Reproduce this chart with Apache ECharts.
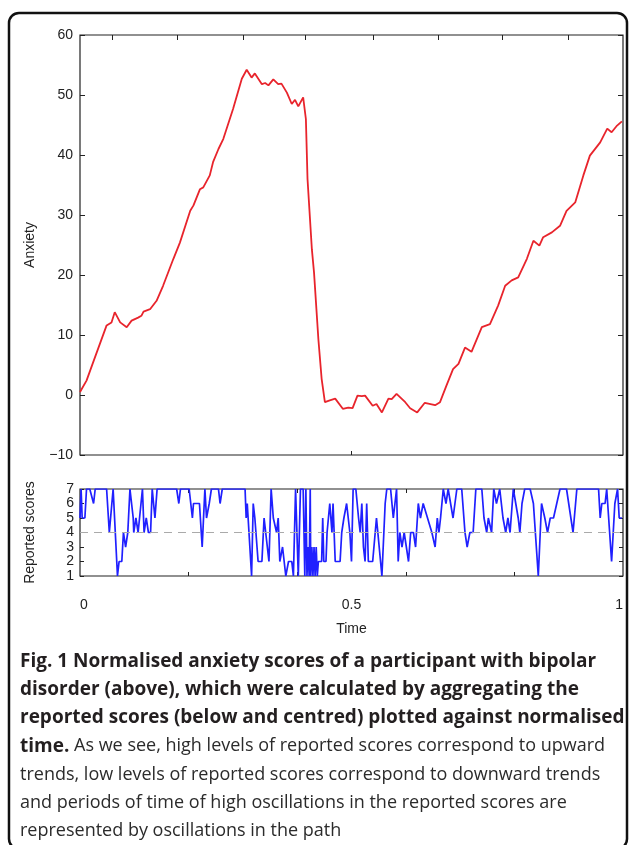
<!DOCTYPE html>
<html>
<head>
<meta charset="utf-8">
<script src="https://cdn.jsdelivr.net/npm/echarts@6/dist/echarts.min.js"></script>
<style>
html, body { margin: 0; padding: 0; background: #fff; }
#chart { width: 629px; height: 845px; }
</style>
</head>
<body>
<div id="chart"></div>
<script>
// anxiety path (top panel)
var anxietyTime = [0.000, 0.012, 0.024, 0.049, 0.058, 0.064, 0.074, 0.086, 0.095, 0.107, 0.113, 0.117, 0.129, 0.141, 0.153,
	0.172, 0.184, 0.203, 0.209, 0.221, 0.227, 0.239, 0.245, 0.255, 0.264, 0.282, 0.298, 0.307, 0.316, 0.322, 0.335, 0.341,
	0.347, 0.356, 0.365, 0.371, 0.381, 0.390, 0.396, 0.402, 0.411, 0.414, 0.416, 0.419, 0.427, 0.431, 0.439, 0.445, 0.451,
	0.460, 0.470, 0.484, 0.494, 0.502, 0.511, 0.519, 0.525, 0.539, 0.546, 0.556, 0.568, 0.574, 0.583, 0.599, 0.608, 0.621,
	0.635, 0.654, 0.663, 0.675, 0.687, 0.697, 0.709, 0.721, 0.740, 0.755, 0.770, 0.783, 0.795, 0.807, 0.823, 0.835, 0.846,
	0.853, 0.869, 0.884, 0.896, 0.912, 0.927, 0.939, 0.958, 0.971, 0.979, 0.988, 0.998];
var anxietyValue = [0.5, 2.4, 5.4, 11.6, 12.1, 13.8, 12.1, 11.3, 12.4, 12.9, 13.2, 13.9, 14.3, 15.7, 18.2,
	22.7, 25.4, 30.7, 31.6, 34.3, 34.6, 36.6, 38.8, 41.0, 42.7, 47.7, 52.7, 54.2, 52.9, 53.6, 51.8, 52.0,
	51.6, 52.6, 51.8, 51.9, 50.4, 48.5, 49.2, 48.1, 49.6, 49.8, 46.0, 36.0, 24.3, 20.4, 9.3, 2.7, -1.2,
	-0.9, -0.6, -2.3, -2.1, -2.2, -0.1, -0.2, -0.1, -1.8, -1.5, -2.9, -0.6, -0.7, 0.2, -1.2, -2.2, -2.9,
	-1.3, -1.7, -1.2, 1.6, 4.3, 5.2, 7.9, 7.2, 11.3, 11.8, 14.9, 18.2, 19.1, 19.6, 22.7, 25.7, 24.9,
	26.3, 27.1, 28.2, 30.7, 32.1, 36.6, 39.9, 42.1, 44.4, 43.8, 44.8, 45.6];

// reported scores (bottom panel)
var scoreTime = [0.000, 0.002, 0.004, 0.009, 0.012, 0.018, 0.025, 0.028, 0.049, 0.054, 0.061, 0.064, 0.069, 0.072, 0.077,
	0.080, 0.084, 0.088, 0.092, 0.098, 0.099, 0.103, 0.107, 0.115, 0.118, 0.122, 0.126, 0.130, 0.133, 0.138, 0.142,
	0.178, 0.182, 0.185, 0.201, 0.207, 0.209, 0.220, 0.225, 0.230, 0.233, 0.238, 0.242, 0.255, 0.258, 0.262, 0.304,
	0.306, 0.308, 0.316, 0.319, 0.322, 0.328, 0.335, 0.339, 0.348, 0.352, 0.356, 0.362, 0.365, 0.368, 0.373, 0.379,
	0.384, 0.390, 0.393, 0.397, 0.402, 0.406, 0.411, 0.414, 0.416, 0.418, 0.420, 0.422, 0.424, 0.425, 0.427, 0.429,
	0.431, 0.433, 0.435, 0.437, 0.439, 0.445, 0.447, 0.449, 0.453, 0.455, 0.460, 0.464, 0.466, 0.470, 0.479, 0.482,
	0.486, 0.491, 0.497, 0.500, 0.503, 0.508, 0.513, 0.516, 0.519, 0.522, 0.525, 0.528, 0.531, 0.539, 0.546, 0.556,
	0.562, 0.565, 0.572, 0.577, 0.583, 0.586, 0.589, 0.593, 0.597, 0.601, 0.605, 0.609, 0.614, 0.618, 0.623, 0.627,
	0.632, 0.640, 0.648, 0.654, 0.658, 0.661, 0.664, 0.669, 0.674, 0.678, 0.687, 0.694, 0.703, 0.709, 0.713, 0.718,
	0.724, 0.729, 0.740, 0.744, 0.749, 0.752, 0.758, 0.762, 0.767, 0.773, 0.779, 0.784, 0.788, 0.792, 0.798, 0.807,
	0.810, 0.814, 0.819, 0.829, 0.835, 0.844, 0.850, 0.856, 0.861, 0.866, 0.872, 0.878, 0.884, 0.896, 0.908, 0.915,
	0.955, 0.958, 0.961, 0.967, 0.970, 0.979, 0.985, 0.990, 0.993, 0.998];
var scoreValue = [5, 7, 5, 5, 7, 7, 6, 7, 7, 4, 7, 7, 1, 2, 2,
	4, 3, 4, 7, 5, 4, 5, 4, 7, 4, 5, 4, 4, 7, 5, 7,
	7, 6, 7, 7, 5, 6, 6, 3, 7, 5, 6, 7, 7, 6, 7, 7,
	5, 6, 1, 6, 5, 2, 2, 5, 2, 7, 5, 4, 5, 2, 3, 1,
	2, 2, 1, 7, 1, 7, 7, 1, 7, 1, 3, 1, 7, 1, 3, 1,
	3, 1, 3, 1, 2, 2, 5, 2, 2, 4, 6, 4, 6, 2, 2, 4,
	5, 6, 4, 2, 7, 7, 5, 4, 6, 3, 2, 6, 2, 2, 5, 1,
	6, 7, 7, 5, 7, 2, 4, 3, 4, 3, 2, 4, 4, 3, 6, 5,
	6, 5, 4, 3, 5, 4, 5, 7, 6, 7, 5, 7, 7, 4, 3, 4,
	4, 7, 7, 5, 4, 5, 4, 7, 6, 7, 5, 4, 5, 4, 7, 5,
	4, 6, 7, 7, 6, 1, 6, 5, 4, 5, 5, 6, 7, 7, 4, 7,
	7, 5, 6, 6, 7, 2, 6, 7, 5, 5];

var timeLabels = [0, 0.5, 1];
var timeTicks = [0.2, 0.4, 0.6, 0.8];
var topTicks = [0.059, 0.179, 0.300, 0.414, 0.540, 0.659, 0.777, 0.899];

var captionBold = [
	'Fig. 1 Normalised anxiety scores of a participant with bipolar',
	'disorder (above), which were calculated by aggregating the',
	'reported scores (below and centred) plotted against normalised'
];
var captionMixed = ['time.', ' As we see, high levels of reported scores correspond to upward'];
var captionPlain = [
	'trends, low levels of reported scores correspond to downward trends',
	'and periods of time of high oscillations in the reported scores are',
	'represented by oscillations in the path'
];

function pairs(xs, ys) {
	return xs.map(function (x, i) { return [x, ys[i]]; });
}

var axisFont = { fontFamily: 'Liberation Sans', fontSize: 14, color: '#222' };
var capFont = '"Open Sans"';
var boldFont = 'bold 19px ' + capFont;
var plainFont = '18px ' + capFont;

var graphics = [
	{
		type: 'rect', z: 10,
		shape: { x: 9, y: 13, width: 618, height: 836, r: 10 },
		style: { fill: null, stroke: '#111', lineWidth: 2.5 }
	}
];
var lineY = 661;
captionBold.forEach(function (t) {
	graphics.push({ type: 'text', left: 20, top: lineY - 9, style: { text: t, font: boldFont, fill: '#231f20' } });
	lineY += 28.2;
});
graphics.push({
	type: 'text', left: 20, top: lineY - 9,
	style: {
		text: '{b|' + captionMixed[0] + '}{n|' + captionMixed[1] + '}',
		rich: {
			b: { font: boldFont, fill: '#231f20' },
			n: { font: plainFont, fill: '#2b2b2b' }
		}
	}
});
lineY += 28.2;
captionPlain.forEach(function (t) {
	graphics.push({ type: 'text', left: 20, top: lineY - 8, style: { text: t, font: plainFont, fill: '#2b2b2b' } });
	lineY += 28.2;
});

var chart = echarts.init(document.getElementById('chart'));
chart.setOption({
	animation: false,
	backgroundColor: '#fff',
	grid: [
		{ left: 80, top: 35, width: 543, height: 420, show: true, borderColor: '#222', borderWidth: 1.2, backgroundColor: 'transparent' },
		{ left: 80, top: 489, width: 543, height: 87, show: true, borderColor: '#222', borderWidth: 1.2, backgroundColor: 'transparent' }
	],
	xAxis: [
		{
			type: 'value', gridIndex: 0, min: 0, max: 1, position: 'bottom',
			axisLine: { show: false, onZero: false }, splitLine: { show: false }, axisLabel: { show: false },
			axisTick: { show: true, inside: true, length: 4, customValues: [0.5], lineStyle: { color: '#222' } }
		},
		{
			type: 'value', gridIndex: 0, min: 0, max: 1, position: 'top',
			axisLine: { show: false, onZero: false }, splitLine: { show: false }, axisLabel: { show: false },
			axisTick: { show: true, inside: true, length: 5, customValues: topTicks, lineStyle: { color: '#222' } }
		},
		{
			type: 'value', gridIndex: 1, min: 0, max: 1, position: 'bottom',
			name: 'Time', nameLocation: 'middle', nameGap: 46,
			nameTextStyle: axisFont,
			axisLine: { show: false, onZero: false }, splitLine: { show: false },
			axisLabel: Object.assign({ margin: 22, customValues: timeLabels, alignMinLabel: 'left', alignMaxLabel: 'right',
				formatter: function (v) { return String(v); } }, axisFont),
			axisTick: { show: true, inside: true, length: 4, customValues: timeTicks, lineStyle: { color: '#222' } }
		},
		{
			type: 'value', gridIndex: 1, min: 0, max: 1, position: 'top',
			axisLine: { show: false, onZero: false }, splitLine: { show: false }, axisLabel: { show: false },
			axisTick: { show: true, inside: true, length: 4, customValues: timeTicks, lineStyle: { color: '#222' } }
		}
	],
	yAxis: [
		{
			type: 'value', gridIndex: 0, min: -10, max: 60, interval: 10, position: 'left',
			name: 'Anxiety', nameLocation: 'middle', nameGap: 43, nameRotate: 90,
			nameTextStyle: axisFont,
			axisLine: { show: false, onZero: false }, splitLine: { show: false },
			axisLabel: Object.assign({ margin: 7, formatter: function (v) { return String(v).replace('-', '\u2212'); } }, axisFont),
			axisTick: { show: true, inside: true, length: 5, lineStyle: { color: '#222' } }
		},
		{
			type: 'value', gridIndex: 0, min: -10, max: 60, interval: 10, position: 'right',
			axisLine: { show: false, onZero: false }, splitLine: { show: false }, axisLabel: { show: false },
			axisTick: { show: true, inside: true, length: 5, lineStyle: { color: '#222' } }
		},
		{
			type: 'value', gridIndex: 1, min: 1, max: 7, interval: 1, position: 'left',
			name: 'Reported scores', nameLocation: 'middle', nameGap: 43, nameRotate: 90,
			nameTextStyle: axisFont,
			axisLine: { show: false, onZero: false }, splitLine: { show: false },
			axisLabel: Object.assign({ margin: 6, lineHeight: 14 }, axisFont),
			axisTick: { show: true, inside: true, length: 4, lineStyle: { color: '#222' } }
		},
		{
			type: 'value', gridIndex: 1, min: 1, max: 7, interval: 1, position: 'right',
			axisLine: { show: false, onZero: false }, splitLine: { show: false }, axisLabel: { show: false },
			axisTick: { show: true, inside: true, length: 4, lineStyle: { color: '#222' } }
		}
	],
	series: [
		{
			type: 'line', xAxisIndex: 0, yAxisIndex: 0,
			data: pairs(anxietyTime, anxietyValue),
			showSymbol: false, smooth: false,
			lineStyle: { color: '#e8242c', width: 1.8 }
		},
		{
			type: 'line', xAxisIndex: 2, yAxisIndex: 2,
			data: pairs(scoreTime, scoreValue),
			showSymbol: false, smooth: false,
			lineStyle: { color: '#2020ff', width: 1.7 },
			markLine: {
				silent: true, symbol: 'none', label: { show: false },
				lineStyle: { color: '#aaa', type: [8, 6], width: 1 },
				data: [{ yAxis: 4 }]
			}
		}
	],
	graphic: graphics
});
</script>
</body>
</html>
